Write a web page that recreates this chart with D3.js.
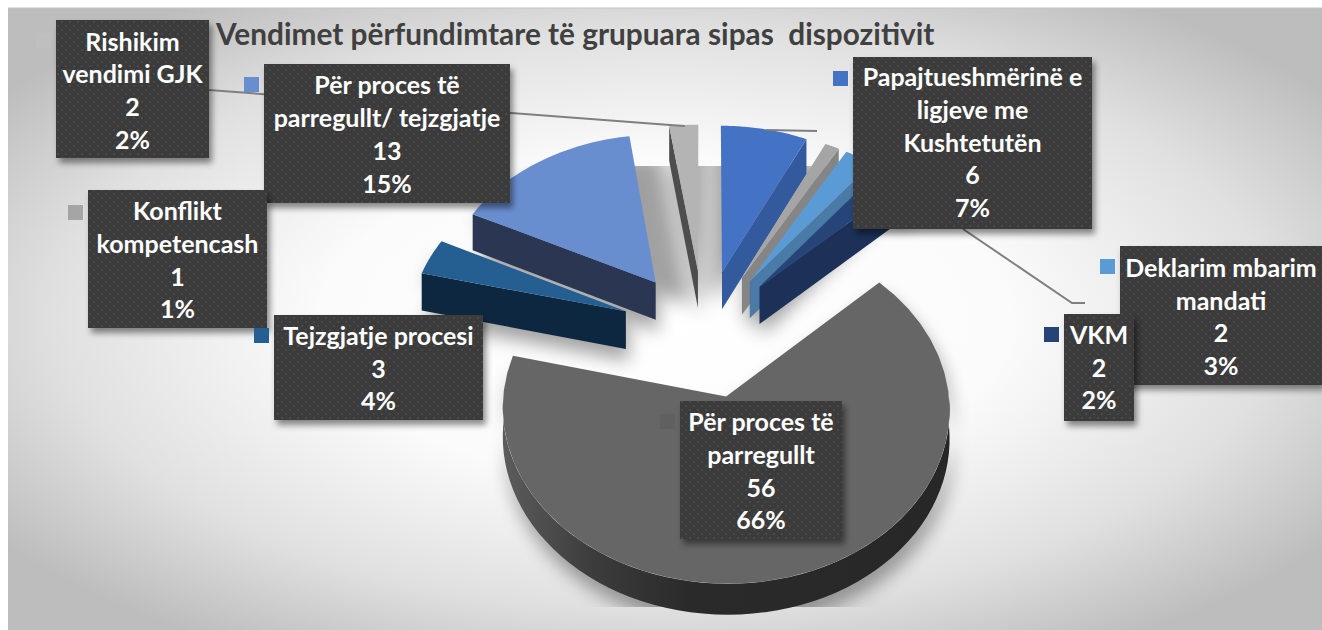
<!DOCTYPE html>
<html><head><meta charset="utf-8">
<script src="https://cdn.jsdelivr.net/npm/d3@7"></script>
<style>html,body{margin:0;padding:0;background:#fff}svg{display:block}</style>
</head><body><svg id="c" width="1322" height="630"></svg>
<script>
const chartTitle = "Vendimet përfundimtare të grupuara sipas  dispozitivit";
const categories = ["Papajtueshmërinë e ligjeve me Kushtetutën","Konflikt kompetencash","Deklarim mbarim mandati","VKM","Për proces të parregullt","Tejzgjatje procesi","Për proces të parregullt/ tejzgjatje","Rishikim vendimi GJK"];
const counts = [6,1,2,2,56,3,13,2];
const percents = ["7%","1%","3%","2%","66%","4%","15%","2%"];
const labelLines = [["Papajtueshmërinë e","ligjeve me","Kushtetutën"],["Konflikt","kompetencash"],["Deklarim mbarim","mandati"],["VKM"],["Për proces të","parregullt"],["Tejzgjatje procesi"],["Për proces të","parregullt/ tejzgjatje"],["Rishikim","vendimi GJK"]];
const topColors = ["#4472c4","#a5a5a5","#5b9bd5","#264478","#666666","#255e91","#698ed0","#b4b4b4"];
const sideColors = ["#345a9e","#858585","#4a7aa6","#1c3058","#2a2a2a","#0e2740","#2a3652","#4d4d4d"];
const keyColors = ["#4472c4","#a5a5a5","#5b9bd5","#264478","#606060","#255e91","#698ed0","#bfbfbf"];
const sliceOrder = [7,0,1,2,3,6,5,4];
const boxOrder = [7,6,1,5,4,0,2,3];
const labelBoxes = [[853,57,1092,229],[88,190,267,328],[1120,246,1322,385],[1064,314,1134,421],[680,401,842,539],[274,315,483,420],[264,64,510,203],[56,20,209,158]];
const keyOffsets = [14,15,13,13,13,13,13,13];
const textNudges = [-1,0.7,1,-0.5,0.7,0.5,0.5,1.2];
const leaderLines = [[[209,90],[670,125],[685,126]],[[766,130],[817,131]],[[963,229],[1072,303],[1085,303]]];

const W=1322,H=630, cx=704, cy=333, R=217, EXPL=84, K=0.76, P=0.07, DEPTH=38, RIM_DEPTH=28;
const svg=d3.select("#c");
const defs=svg.append("defs");
const bg=defs.append("radialGradient").attr("id","bg").attr("cx","50%").attr("cy","50%").attr("r","62%");
[[0,"#ffffff"],[0.42,"#fbfbfb"],[0.75,"#e0e0e0"],[1,"#bdbdbd"]].forEach(d=>bg.append("stop").attr("offset",d[0]).attr("stop-color",d[1]));
const rimG=defs.append("linearGradient").attr("id","rimG").attr("gradientUnits","userSpaceOnUse").attr("x1",503).attr("x2",950).attr("y1",0).attr("y2",0);
[[0,"#5c5c5c"],[0.2,"#3c3c3c"],[0.42,"#2a2a2a"],[1,"#272727"]].forEach(d=>rimG.append("stop").attr("offset",d[0]).attr("stop-color",d[1]));
const pat=defs.append("pattern").attr("id","dots").attr("width",8).attr("height",8).attr("patternUnits","userSpaceOnUse");
pat.append("rect").attr("width",8).attr("height",8).attr("fill","#3b3b3b");
[[2,2],[6,6]].forEach(d=>pat.append("rect").attr("x",d[0]-.8).attr("y",d[1]-.8).attr("width",1.6).attr("height",1.6).attr("fill","#525252"));
const fl=defs.append("filter").attr("id","boxShadow").attr("x","-20%").attr("y","-20%").attr("width","150%").attr("height","150%");
fl.append("feDropShadow").attr("dx",3).attr("dy",5).attr("stdDeviation",3).attr("flood-color","#000").attr("flood-opacity",.45);
const blur=defs.append("filter").attr("id","blur").attr("x","-30%").attr("y","-30%").attr("width","160%").attr("height","160%");
blur.append("feGaussianBlur").attr("stdDeviation",9);
defs.append("clipPath").attr("id","floorClip").append("rect").attr("x",0).attr("y",166).attr("width",W).attr("height",607-166);

svg.append("rect").attr("x",8).attr("y",8).attr("width",W-8).attr("height",H-8).attr("fill","url(#bg)");
svg.append("line").attr("x1",8).attr("x2",W).attr("y1",8).attr("y2",8).attr("stroke","#c4c4c4").attr("stroke-width",1);

const arcs=d3.pie().sort(null)(counts);
function proj(u,v,h){const s=1/(1+P*v/R);return [cx+u*s,cy-v*K*s+h*s];}
function rim(d,t,h,e=EXPL){const m=(d.startAngle+d.endAngle)/2;
  return proj(e*Math.sin(m)+R*Math.sin(t),e*Math.cos(m)+R*Math.cos(t),h);}
function apex(d,h,e=EXPL){const m=(d.startAngle+d.endAngle)/2;return proj(e*Math.sin(m),e*Math.cos(m),h);}
const angleScale=d=>d3.range(0,41).map(i=>d3.scaleLinear().domain([0,40]).range([d.startAngle,d.endAngle])(i));
const line=d3.line().curve(d3.curveLinearClosed);
function topPath(d){return line([apex(d,0),...angleScale(d).map(t=>rim(d,t,0))]);}
function silhouette(d){return line([apex(d,DEPTH),apex(d,0),...angleScale(d).map(t=>rim(d,t,0)),...angleScale(d).reverse().map(t=>rim(d,t,d.endAngle-d.startAngle>3?RIM_DEPTH:DEPTH))]);}
function radial(d,t){return line([apex(d,0),rim(d,t,0),rim(d,t,DEPTH),apex(d,DEPTH)]);}
function outer(d){const a=Math.max(d.startAngle,Math.PI/2),b=Math.min(d.endAngle,Math.PI*1.5);
  if(b<=a)return null;const ts=d3.range(0,61).map(i=>a+(b-a)*i/60);
  return line([...ts.map(t=>rim(d,t,0)),...ts.slice().reverse().map(t=>rim(d,t,RIM_DEPTH))]);}
// wedges pulled back toward the centre fill the gaps between the upper slices with floor shadow
function gapShadow(d){return line([apex(d,0,30),...angleScale(d).map(t=>rim(d,t,0,30))]);}

const floor=svg.append("g").attr("clip-path","url(#floorClip)").append("g").attr("filter","url(#blur)").attr("opacity",.36).attr("transform","translate(3,12)");
floor.selectAll("path.s").data(sliceOrder.map(i=>arcs[i])).join("path").attr("class","s").attr("d",silhouette).attr("fill","#000");
floor.selectAll("path.g").data([7,0,1,6].map(i=>arcs[i])).join("path").attr("class","g").attr("d",gapShadow).attr("fill","#000").attr("transform","translate(0,-22)");

const ll=d3.line();
const gSlices=svg.append("g");
sliceOrder.forEach(i=>{const d=arcs[i],g=gSlices.append("g");
  if(Math.sin(d.startAngle)<0)g.append("path").attr("d",radial(d,d.startAngle)).attr("fill",sideColors[i]);
  if(Math.sin(d.endAngle)>0)g.append("path").attr("d",radial(d,d.endAngle)).attr("fill",sideColors[i]);
  const o=outer(d); if(o)g.append("path").attr("d",o).attr("fill","url(#rimG)");
  g.append("path").attr("d",topPath(d)).attr("fill",topColors[i]);
});
svg.append("g").selectAll("path").data(leaderLines).join("path").attr("d",ll).attr("fill","none").attr("stroke","#7f7f7f").attr("stroke-width",2);

svg.append("text").attr("x",216).attr("y",45).attr("font-family","Lato").attr("font-weight",700).attr("font-size",29.8).attr("fill","#404040").style("white-space","pre").text(chartTitle);

const lh=32.8;
boxOrder.forEach(i=>{const b=labelBoxes[i],g=svg.append("g");
  g.append("rect").attr("x",b[0]-20).attr("y",b[1]+keyOffsets[i]).attr("width",15).attr("height",15).attr("fill",keyColors[i]);
  g.append("rect").attr("x",b[0]).attr("y",b[1]).attr("width",b[2]-b[0]).attr("height",b[3]-b[1]).attr("fill","url(#dots)").attr("filter","url(#boxShadow)");
  const lines=[...labelLines[i],String(counts[i]),percents[i]];
  const mid=(b[0]+b[2])/2, top=(b[1]+b[3])/2-lh*lines.length/2+textNudges[i];
  g.selectAll("text").data(lines).join("text").attr("x",mid).attr("y",(d,j)=>top+lh*j+lh/2+9.5)
   .attr("text-anchor","middle").attr("font-family","Lato").attr("font-weight",700).attr("font-size",25).attr("fill","#fff").text(d=>d);
});
</script></body></html>
